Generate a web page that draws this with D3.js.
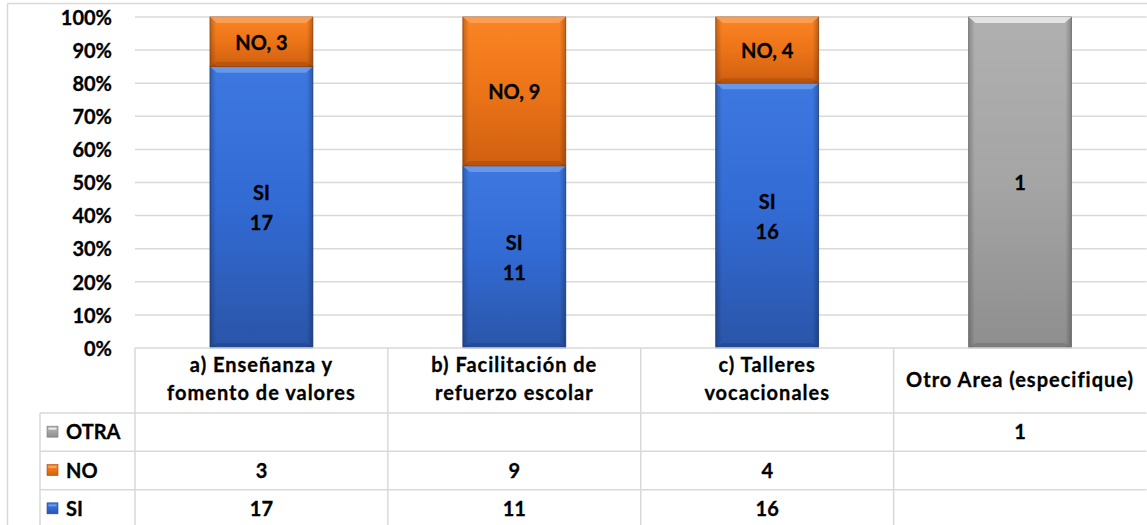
<!DOCTYPE html>
<html>
<head>
<meta charset="utf-8">
<script src="https://cdn.jsdelivr.net/npm/d3@7"></script>
<style>
  body { margin: 0; background: #fff; }
  svg { font-family: Lato, "Open Sans", sans-serif; font-weight: bold; }
  svg text { stroke: #000; stroke-width: 0.3; }
</style>
</head>
<body>
<div id="chart"></div>
<script>
// categorias del grafico
const categories = ["a", "b", "c", "d"];
const categoryLines = [
  ["a) Enseñanza y", "fomento de valores"],
  ["b) Facilitación de", "refuerzo escolar"],
  ["c) Talleres", "vocacionales"],
  ["Otro Area (especifique)"]
];
const seriesNames = ["SI", "NO", "OTRA"];
const siValues = [17, 11, 16, null];
const noValues = [3, 9, 4, null];
const otraValues = [null, null, null, 1];
const yTicks = [0, 0.1, 0.2, 0.3, 0.4, 0.5, 0.6, 0.7, 0.8, 0.9, 1];

const width = 1147, height = 525;
const plotLeft = 135, plotRight = 1146.5, plotTop = 17, plotBottom = 348;
const fs = 20;

const svg = d3.select("#chart").append("svg")
  .attr("width", width).attr("height", height);

const colors = {
  SI: { top: "#3d78e0", mid: "#326ad3", bot: "#2a55a8", hi: "#6c9cf0", edge: "#1f4691" },
  NO: { top: "#fb8424", mid: "#ec7418", bot: "#cf5f10", hi: "#fca25a", edge: "#a84b0b" },
  OTRA: { top: "#b0b0b0", mid: "#a5a5a5", bot: "#8e8e8e", hi: "#ececec", edge: "#7a7a7a" }
};

const defs = svg.append("defs");
seriesNames.forEach(s => {
  const g = defs.append("linearGradient").attr("id", "g" + s)
    .attr("x1", 0).attr("y1", 0).attr("x2", 0).attr("y2", 1);
  g.append("stop").attr("offset", "0%").attr("stop-color", colors[s].top);
  g.append("stop").attr("offset", "50%").attr("stop-color", colors[s].mid);
  g.append("stop").attr("offset", "100%").attr("stop-color", colors[s].bot);
});
// sombreado de los bordes laterales
const side = defs.append("linearGradient").attr("id", "side")
  .attr("x1", 0).attr("y1", 0).attr("x2", 1).attr("y2", 0);
side.append("stop").attr("offset", "0%").attr("stop-color", "#000").attr("stop-opacity", 0.22);
side.append("stop").attr("offset", "6%").attr("stop-color", "#000").attr("stop-opacity", 0);
side.append("stop").attr("offset", "94%").attr("stop-color", "#000").attr("stop-opacity", 0);
side.append("stop").attr("offset", "100%").attr("stop-color", "#000").attr("stop-opacity", 0.25);

// marco exterior
svg.append("line").attr("x1", 7.5).attr("x2", width).attr("y1", 3.5).attr("y2", 3.5)
  .attr("stroke", "#d9d9d9").attr("stroke-width", 1.5);
svg.append("line").attr("x1", 7.5).attr("x2", 7.5).attr("y1", 3.5).attr("y2", height)
  .attr("stroke", "#d9d9d9").attr("stroke-width", 1.5);

const x = d3.scaleBand().domain(categories).range([plotLeft, plotRight]).padding(0);
const xBar = d3.scaleBand().domain(categories).range([plotLeft, plotRight])
  .paddingInner(0.593).paddingOuter(0.2965);
const y = d3.scaleLinear().domain([0, 1]).range([plotBottom, plotTop]);

// lineas de cuadricula
svg.append("g").selectAll("line").data(yTicks.slice(1)).join("line")
  .attr("x1", plotLeft).attr("x2", plotRight)
  .attr("y1", d => y(d)).attr("y2", d => y(d))
  .attr("stroke", "#d9d9d9").attr("stroke-width", 1.5);

const yAxis = svg.append("g").attr("transform", `translate(${plotLeft},0)`)
  .call(d3.axisLeft(y).tickValues(yTicks).tickFormat(d3.format(".0%")).tickSize(0).tickPadding(23));
yAxis.select(".domain").remove();
yAxis.selectAll("text").attr("font-size", fs).attr("font-family", "Lato, sans-serif")
  .attr("font-weight", "bold").attr("fill", "#000").attr("dy", "0.36em");

// datos apilados al 100%
const table = categories.map((c, i) => ({
  cat: c, SI: siValues[i] || 0, NO: noValues[i] || 0, OTRA: otraValues[i] || 0
}));
const stack = d3.stack().keys(seriesNames).offset(d3.stackOffsetExpand);
const stacked = stack(table);

stacked.forEach(layer => {
  const s = layer.key;
  const g = svg.append("g");
  layer.forEach((d, i) => {
    if (d[1] - d[0] <= 0) return;
    const bx = xBar(categories[i]), bw = xBar.bandwidth();
    const y0 = y(d[1]), y1 = y(d[0]), h = y1 - y0;
    g.append("rect").attr("x", bx).attr("y", y0).attr("width", bw).attr("height", h)
      .attr("fill", `url(#g${s})`).attr("stroke", colors[s].edge).attr("stroke-width", 0.8);
    g.append("rect").attr("x", bx).attr("y", y0).attr("width", bw).attr("height", h)
      .attr("fill", "url(#side)");
    // bisel superior
    g.append("path")
      .attr("d", `M${bx},${y0} L${bx + bw},${y0} L${bx + bw - 7},${y0 + 6} L${bx + 7},${y0 + 6} Z`)
      .attr("fill", colors[s].hi).attr("opacity", 0.85);
    // bisel inferior
    g.append("path")
      .attr("d", `M${bx},${y1} L${bx + bw},${y1} L${bx + bw - 7},${y1 - 5} L${bx + 7},${y1 - 5} Z`)
      .attr("fill", "#000").attr("opacity", 0.12);

    // etiquetas
    const cx = bx + bw / 2, cy = (y0 + y1) / 2;
    const val = table[i][s];
    const lbl = g.append("text").attr("x", cx).attr("text-anchor", "middle")
      .attr("font-size", fs).attr("fill", "#000");
    if (s === "NO") {
      lbl.attr("y", cy + 8).text(`${s}, ${val}`);
    } else if (s === "SI") {
      lbl.append("tspan").attr("x", cx).attr("y", cy - 7).text(s);
      lbl.append("tspan").attr("x", cx).attr("y", cy + 23).text(val);
    } else {
      lbl.attr("y", cy + 7).text(val);
    }
  });
});

// tabla de datos
const rowOrder = ["OTRA", "NO", "SI"];
const rowValues = { SI: siValues, NO: noValues, OTRA: otraValues };
const headerBottom = 413;
const rowY = d3.scaleBand().domain(rowOrder).range([headerBottom, 528]);
const grid = "#d9d9d9";
const tg = svg.append("g");

// lineas horizontales
tg.append("line").attr("x1", plotLeft).attr("x2", plotRight).attr("y1", plotBottom).attr("y2", plotBottom)
  .attr("stroke", grid).attr("stroke-width", 1.5);
rowOrder.forEach(r => {
  tg.append("line").attr("x1", 40).attr("x2", plotRight)
    .attr("y1", rowY(r)).attr("y2", rowY(r))
    .attr("stroke", grid).attr("stroke-width", 1.5);
});
// lineas verticales
categories.forEach(c => {
  tg.append("line").attr("x1", x(c)).attr("x2", x(c)).attr("y1", plotBottom).attr("y2", height)
    .attr("stroke", grid).attr("stroke-width", 1.5);
});
tg.append("line").attr("x1", 40).attr("x2", 40).attr("y1", headerBottom).attr("y2", height)
  .attr("stroke", grid).attr("stroke-width", 1.5);

// encabezados de categoria
categories.forEach((c, i) => {
  const lines = categoryLines[i];
  const cx = x(c) + x.bandwidth() / 2;
  const t = tg.append("text").attr("text-anchor", "middle").attr("font-size", fs)
    .attr("letter-spacing", 1).attr("fill", "#000");
  const startY = lines.length === 1 ? 387 : 372;
  lines.forEach((ln, k) => {
    t.append("tspan").attr("x", cx).attr("y", startY + k * 28).text(ln);
  });
});

// filas con leyenda
rowOrder.forEach(r => {
  const ry = rowY(r), rh = rowY.bandwidth(), mid = ry + rh / 2;
  tg.append("rect").attr("x", 47).attr("y", mid - 6).attr("width", 11).attr("height", 11)
    .attr("fill", `url(#g${r})`).attr("stroke", colors[r].edge).attr("stroke-width", 0.6);
  tg.append("rect").attr("x", 48.5).attr("y", mid - 4.5).attr("width", 8).attr("height", 2)
    .attr("fill", colors[r].hi);
  tg.append("text").attr("x", 66).attr("y", mid + 7).attr("font-size", fs)
    .attr("fill", "#000").text(r);
  categories.forEach((c, i) => {
    const v = rowValues[r][i];
    if (v == null) return;
    tg.append("text").attr("x", x(c) + x.bandwidth() / 2).attr("y", mid + 7)
      .attr("text-anchor", "middle").attr("font-size", fs).attr("fill", "#000").text(v);
  });
});
</script>
</body>
</html>
